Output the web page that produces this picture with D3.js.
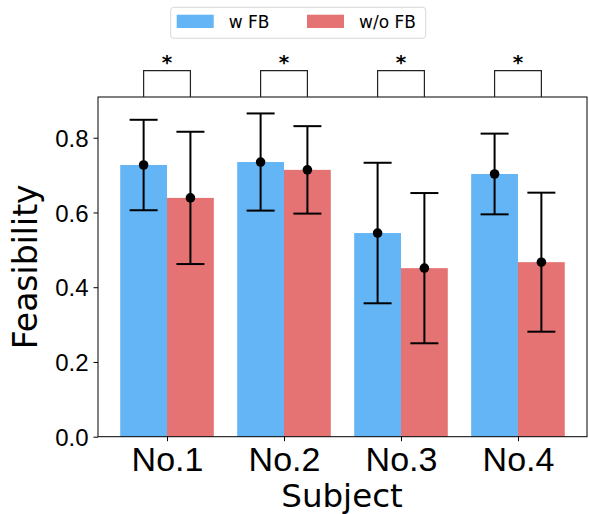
<!DOCTYPE html>
<meta charset="utf-8">
<style>
    body { margin: 0; background: #fff; }
    svg { font-family: "DejaVu Sans", sans-serif; }
</style>
<body>
<svg width="589" height="514"></svg>
</body>
<script src="https://cdn.jsdelivr.net/npm/d3@7"></script>
<script>

    var subjects = ["No.1", "No.2", "No.3", "No.4"];
    var seriesNames = ["w FB", "w/o FB"];
    var meanWithFB = [0.727, 0.735, 0.545, 0.703];
    var errWithFB = [0.121, 0.130, 0.188, 0.108];
    var meanWithoutFB = [0.639, 0.714, 0.451, 0.467];
    var errWithoutFB = [0.177, 0.117, 0.201, 0.186];
    var yTicks = [0.0, 0.2, 0.4, 0.6, 0.8];
    var significance = ["*", "*", "*", "*"];

    var colors = ["#64b5f6", "#e57373"];

    var svg = d3.select("svg");

    var plotLeft = 98, plotRight = 587, plotTop = 97, plotBottom = 436.7;

    // matplotlib-style index axis: bars at i-0.4..i+0.4, 5% margin
    var x = d3.scaleLinear().domain([-0.59, 3.59]).range([plotLeft, plotRight]);
    var y = d3.scaleLinear().domain([0, 0.909]).range([plotBottom, plotTop]);

    var barW = 0.4;

    var series = [
        {name: seriesNames[0], mean: meanWithFB, err: errWithFB, off: -barW, color: colors[0]},
        {name: seriesNames[1], mean: meanWithoutFB, err: errWithoutFB, off: 0, color: colors[1]}
    ];

    // bars
    series.forEach(function (s) {
        svg.append("g").selectAll("rect")
            .data(s.mean)
            .enter().append("rect")
            .attr("x", function (d, i) { return x(i + s.off); })
            .attr("width", function (d, i) { return x(i + s.off + barW) - x(i + s.off); })
            .attr("y", function (d) { return y(d); })
            .attr("height", function (d) { return y(0) - y(d); })
            .attr("fill", s.color);
    });

    // error bars
    series.forEach(function (s) {
        var g = svg.append("g");
        s.mean.forEach(function (m, i) {
            var cx = x(i + s.off + barW / 2);
            var lo = y(m - s.err[i]), hi = y(m + s.err[i]);
            g.append("line").attr("x1", cx).attr("x2", cx).attr("y1", lo).attr("y2", hi)
                .attr("stroke", "#000").attr("stroke-width", 2);
            [lo, hi].forEach(function (yy) {
                g.append("line").attr("x1", cx - 14).attr("x2", cx + 14).attr("y1", yy).attr("y2", yy)
                    .attr("stroke", "#000").attr("stroke-width", 2);
            });
            g.append("circle").attr("cx", cx).attr("cy", y(m)).attr("r", 4.8).attr("fill", "#000");
        });
    });

    // frame
    svg.append("rect")
        .attr("x", plotLeft).attr("y", plotTop)
        .attr("width", plotRight - plotLeft).attr("height", plotBottom - plotTop)
        .attr("fill", "none").attr("stroke", "#000").attr("stroke-width", 1);

    // y axis
    var yAxis = svg.append("g").attr("transform", "translate(" + plotLeft + ",0)")
        .call(d3.axisLeft(y).tickValues(yTicks).tickFormat(d3.format(".1f")).tickSize(4.5).tickPadding(5));
    yAxis.select(".domain").remove();
    yAxis.selectAll("text").style("font-size", "24px").attr("fill", "#000").attr("dy", "0.36em");

    // x axis
    var xAxis = svg.append("g").attr("transform", "translate(0," + plotBottom + ")")
        .call(d3.axisBottom(x).tickValues(d3.range(subjects.length))
            .tickFormat(function (d) { return subjects[d]; }).tickSize(4.5).tickPadding(6));
    xAxis.select(".domain").remove();
    xAxis.selectAll("text").style("font-size", "34px").attr("fill", "#000");

    // axis titles
    svg.append("text")
        .attr("x", (plotLeft + plotRight) / 2 - 0.5).attr("y", 507)
        .attr("text-anchor", "middle")
        .style("font-size", "32.5px")
        .text("Subject");

    svg.append("text")
        .attr("transform", "translate(37," + (plotTop + plotBottom) / 2 + ") rotate(-90)")
        .attr("text-anchor", "middle")
        .style("font-size", "33px")
        .text("Feasibility");

    // significance brackets
    var sig = svg.append("g");
    significance.forEach(function (t, i) {
        var x1 = x(i - barW / 2), x2 = x(i + barW / 2), yb = 70.7;
        sig.append("path")
            .attr("d", "M" + x1 + "," + plotTop + "V" + yb + "H" + x2 + "V" + plotTop)
            .attr("fill", "none").attr("stroke", "#222").attr("stroke-width", 1.2);
        sig.append("text")
            .attr("x", (x1 + x2) / 2).attr("y", 69)
            .attr("text-anchor", "middle")
            .attr("fill", "#000")
            .style("font-size", "20px")
            .style("font-weight", "bold")
            .text(t);
    });

    // legend
    var legend = svg.append("g");
    legend.append("rect")
        .attr("x", 170.7).attr("y", 7.3).attr("width", 255).attr("height", 31)
        .attr("rx", 3).attr("fill", "#fff").attr("stroke", "#d8d8d8");
    var legX = [176.7, 307];
    seriesNames.forEach(function (n, i) {
        legend.append("rect")
            .attr("x", legX[i]).attr("y", 14.7).attr("width", 37).attr("height", 13.3)
            .attr("fill", colors[i]);
        legend.append("text")
            .attr("x", legX[i] + 52).attr("y", 28)
            .style("font-size", "17px")
            .text(n);
    });

</script>
